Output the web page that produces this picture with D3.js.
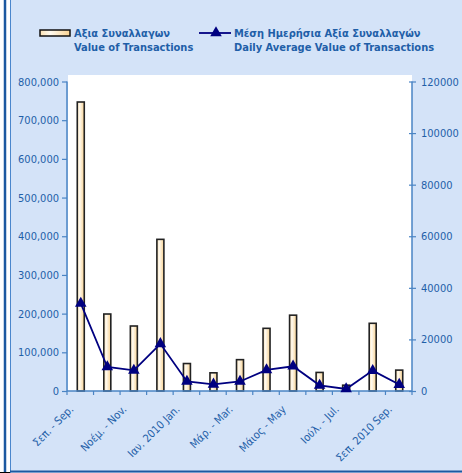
<!DOCTYPE html>
<html><head><meta charset="utf-8">
<script src="https://cdn.jsdelivr.net/npm/d3@7"></script>
<style>
html,body{margin:0;padding:0;background:#fff;}
svg{display:block;}
text{font-family:"DejaVu Sans Condensed","Liberation Sans",sans-serif;}
</style></head>
<body>
<svg id="chart" width="462" height="473"></svg>
<script>
const categories = ["Σεπ. - Sep.","Οκτ. - Oct.","Νοέμ. - Nov.","Δεκ. - Dec.","Ιαν. 2010 Jan.","Φεβ. - Feb.","Μάρ. - Mar.","Απρ. - Apr.","Μάιος - May","Ιούν. - Jun.","Ιούλ. - Jul.","Αύγ. - Aug.","Σεπ. 2010 Sep."];
const valueOfTransactions = [747000, 199000, 168000, 392000, 71000, 47000, 81000, 162000, 196000, 48000, 15000, 175000, 54000];
const dailyAverage = [34000, 9300, 8000, 18300, 3700, 2600, 3700, 8200, 9600, 2200, 800, 7900, 2500];
const leftTicks = [0,100000,200000,300000,400000,500000,600000,700000,800000];
const rightTicks = [0,20000,40000,60000,80000,100000,120000];
const legendBar = ["Αξια Συναλλαγων","Value of Transactions"];
const legendLine = ["Μέση Ημερήσια Αξία Συναλλαγών","Daily Average Value of Transactions"];

const svg = d3.select("#chart");
const W = 462, H = 473;
const textCol = "#1f5fa8", axisCol = "#4a84c4", navy = "#000080";

// frame
svg.append("rect").attr("x",10).attr("y",0).attr("width",W-10).attr("height",H).attr("fill","#d4e3f8");
svg.append("line").attr("x1",5).attr("x2",5).attr("y1",0).attr("y2",H).attr("stroke","#1c58a0").attr("stroke-width",2.5);
svg.append("line").attr("x1",10.5).attr("x2",10.5).attr("y1",0).attr("y2",H).attr("stroke","#4a86cc").attr("stroke-width",1);
svg.append("line").attr("x1",10).attr("x2",W).attr("y1",471.5).attr("y2",471.5).attr("stroke","#1c58a0").attr("stroke-width",2);
svg.append("line").attr("x1",0).attr("x2",10).attr("y1",472.5).attr("y2",472.5).attr("stroke","#000").attr("stroke-width",1);

const plot = {l:67, r:412, t:81.5, b:391};
svg.append("rect").attr("x",plot.l+1).attr("y",75).attr("width",plot.r-plot.l-1).attr("height",plot.b-75).attr("fill","#fff");

const x = d3.scaleBand().domain(categories).range([plot.l, plot.r]).paddingInner(0).paddingOuter(0);
const yL = d3.scaleLinear().domain([0,800000]).range([plot.b, plot.t]);
const yR = d3.scaleLinear().domain([0,120000]).range([plot.b, plot.t]);

// gradient
const defs = svg.append("defs");
const g = defs.append("linearGradient").attr("id","barg").attr("x1","0").attr("x2","1").attr("y1","0").attr("y2","0");
g.append("stop").attr("offset","0%").attr("stop-color","#fbe2b4");
g.append("stop").attr("offset","35%").attr("stop-color","#fffaf0");
g.append("stop").attr("offset","100%").attr("stop-color","#f8d291");

const bw = 7;
svg.append("g").selectAll("rect").data(valueOfTransactions).join("rect")
  .attr("x",(d,i)=>x(categories[i]) + x.bandwidth()/2 - bw/2 + 0.5)
  .attr("y",d=>yL(d))
  .attr("width",bw)
  .attr("height",d=>plot.b - yL(d))
  .attr("fill","url(#barg)")
  .attr("stroke","#222").attr("stroke-width",1.6);

// axes
const axL = d3.axisLeft(yL).tickValues(leftTicks).tickSize(5).tickFormat(d3.format(",")).tickPadding(3);
const gL = svg.append("g").attr("transform",`translate(${plot.l},0)`).call(axL);
const axR = d3.axisRight(yR).tickValues(rightTicks).tickSize(4).tickFormat(d=>String(d)).tickPadding(5);
const gR = svg.append("g").attr("transform",`translate(${plot.r},0)`).call(axR);
gR.selectAll(".tick line").attr("x1",-3);
const bounds = categories.map(c=>x(c)).concat([plot.r]);
const gX = svg.append("g");
gX.append("line").attr("x1",plot.l).attr("x2",plot.r).attr("y1",plot.b).attr("y2",plot.b).attr("stroke",axisCol).attr("stroke-width",1.5);
gX.selectAll("line.t").data(bounds).join("line").attr("class","t")
  .attr("x1",d=>d).attr("x2",d=>d).attr("y1",plot.b).attr("y2",plot.b+4).attr("stroke",axisCol).attr("stroke-width",1.2);
gX.selectAll("text").data(categories.filter((c,i)=>i%2===0)).join("text")
  .attr("transform",d=>`translate(${x(d)+x.bandwidth()/2-6},${plot.b+19}) rotate(-45)`)
  .attr("text-anchor","end").attr("font-size","11px").attr("fill",textCol).text(d=>d);

[gL,gR].forEach(a=>{
  a.select(".domain").attr("stroke",axisCol).attr("stroke-width",1.5);
  a.selectAll(".tick line").attr("stroke",axisCol).attr("stroke-width",1.2);
  a.selectAll(".tick text").attr("fill",textCol).attr("font-size","11px").attr("font-family",'"DejaVu Sans Condensed","Liberation Sans",sans-serif');
});
gL.select(".domain").attr("d",`M0,${plot.b}V${plot.t}`);
gR.select(".domain").attr("d",`M0,${plot.b}V${plot.t}`);

// line series
const line = d3.line().x((d,i)=>x(categories[i])+x.bandwidth()/2+0.5).y(d=>yR(d));
svg.append("path").datum(dailyAverage).attr("d",line).attr("fill","none").attr("stroke",navy).attr("stroke-width",1.8);
const tri = d3.symbol().type(d3.symbolTriangle).size(58);
svg.append("g").selectAll("path").data(dailyAverage).join("path")
  .attr("transform",(d,i)=>`translate(${x(categories[i])+x.bandwidth()/2+0.5},${yR(d)})`)
  .attr("d",tri).attr("fill",navy);

// legend
const lg = svg.append("g");
lg.append("rect").attr("x",40).attr("y",30).attr("width",30).attr("height",6).attr("fill","url(#barg)").attr("stroke","#111").attr("stroke-width",1.5);
lg.selectAll("text.a").data(legendBar).join("text").attr("class","a")
  .attr("x",74).attr("y",(d,i)=>37+i*13.5).attr("font-size","11px").attr("font-weight","bold").attr("fill",textCol).text(d=>d);
lg.append("line").attr("x1",199).attr("x2",231).attr("y1",33).attr("y2",33).attr("stroke",navy).attr("stroke-width",1.8);
lg.append("path").attr("transform","translate(216,33)").attr("d",tri).attr("fill",navy);
lg.selectAll("text.b").data(legendLine).join("text").attr("class","b")
  .attr("x",234).attr("y",(d,i)=>37+i*13.5).attr("font-size","11px").attr("font-weight","bold").attr("fill",textCol).text(d=>d);
</script>
</body></html>
